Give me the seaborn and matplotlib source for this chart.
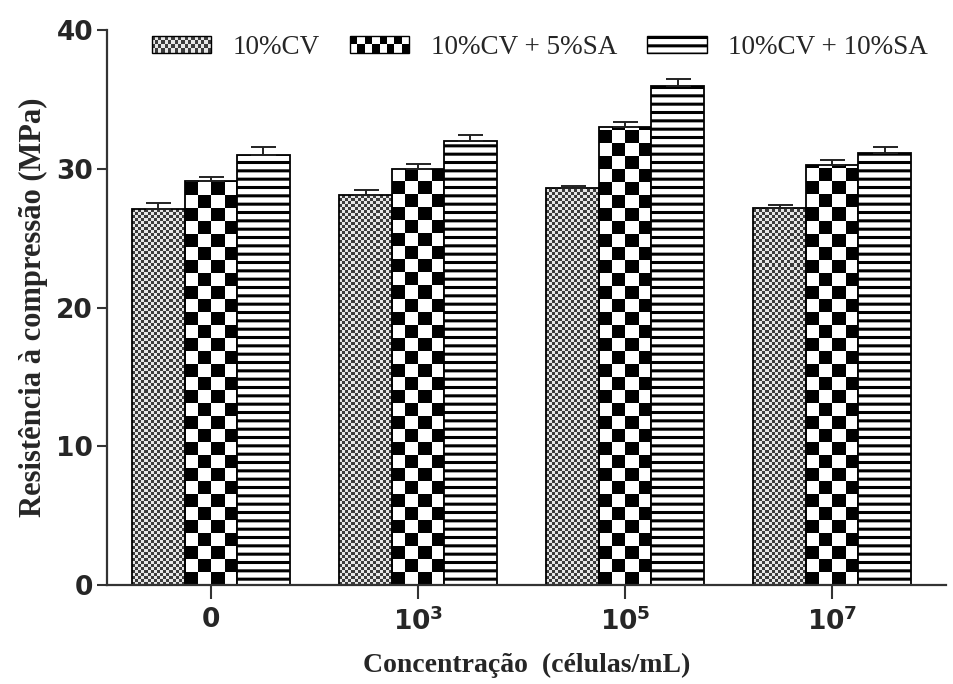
import numpy as np
import pandas as pd
import matplotlib
matplotlib.use("Agg")
import matplotlib.pyplot as plt
import seaborn as sns
from matplotlib.colors import ListedColormap
from matplotlib.patches import Rectangle
from matplotlib.legend_handler import HandlerBase

# ---------------- data ----------------
concentrations = ['0', '10^3', '10^5', '10^7']
tick_labels = ['0', r'$\mathbf{10^3}$', r'$\mathbf{10^5}$', r'$\mathbf{10^7}$']
series = ['10%CV', '10%CV + 5%SA', '10%CV + 10%SA']
cv = [27.1, 28.1, 28.6, 27.2]
cv_5sa = [29.1, 30.0, 33.0, 30.3]
cv_10sa = [31.0, 32.0, 36.0, 31.1]
err_cv = [0.45, 0.4, 0.15, 0.2]
err_cv_5sa = [0.3, 0.35, 0.4, 0.3]
err_cv_10sa = [0.55, 0.45, 0.5, 0.45]

values = [cv, cv_5sa, cv_10sa]
errors = [err_cv, err_cv_5sa, err_cv_10sa]

rows = []
for s, vals in zip(series, values):
    for c, v in zip(concentrations, vals):
        rows.append({'conc': c, 'val': v, 'series': s})
df = pd.DataFrame(rows)

# ---------------- figure ----------------
sns.set_style("white")
plt.rcParams['hatch.linewidth'] = 2.2
plt.rcParams['hatch.color'] = '#3a3a3a'

fig = plt.figure(figsize=(9.54, 6.84), dpi=100)
ax = fig.add_axes([107 / 954, 1 - 585 / 684, (946 - 107) / 954, (585 - 30) / 684])

sns.barplot(data=df, x='conc', y='val', hue='series', order=concentrations,
            hue_order=series, width=0.76, errorbar=None, ax=ax, legend=False,
            palette=['white'] * 3, edgecolor='black', linewidth=1.3,
            saturation=1)

XLIM = (-0.502, 3.55)
YLIM = (0, 40)
ax.set_xlim(*XLIM)
ax.set_ylim(*YLIM)
fig.canvas.draw()

px_per_x = (ax.transData.transform((1, 0))[0] - ax.transData.transform((0, 0))[0])
px_per_y = (ax.transData.transform((0, 1))[1] - ax.transData.transform((0, 0))[1])


def checker_fill(bar, sq_px, c1, c2):
    x, w = bar.get_x(), bar.get_width()
    y0, h = bar.get_y(), bar.get_height()
    ncols = max(1, int(round(w * px_per_x / sq_px)))
    nrows = int(np.ceil(h * px_per_y / sq_px)) + 1
    arr = np.add.outer(np.arange(nrows), np.arange(ncols)) % 2
    top = y0 + nrows * sq_px / px_per_y
    im = ax.imshow(arr, cmap=ListedColormap([c1, c2]), extent=(x, x + w, y0, top),
                   origin='lower', aspect='auto', interpolation='nearest', zorder=1.5)
    im.set_clip_path(bar)
    bar.set_facecolor('none')
    bar.set_zorder(2)


patterns = [(3.0, '#3c3c3c', '#e6e6e6'), (13.0, 'black', 'white')]
for ci, cont in enumerate(ax.containers):
    for bar in cont:
        if ci < 2:
            sq, c1, c2 = patterns[ci]
            checker_fill(bar, sq, c1, c2)
        else:
            bar.set_hatch('--')
            bar.set_zorder(2)

# error bars (upper only)
for cont, err in zip(ax.containers, errors):
    xs = [b.get_x() + b.get_width() / 2 for b in cont]
    ys = [b.get_height() for b in cont]
    ax.errorbar(xs, ys, yerr=[np.zeros(len(err)), err], fmt='none',
                ecolor='#222222', elinewidth=1.4, capsize=9, capthick=1.4, zorder=3)

ax.set_xlim(*XLIM)
ax.set_ylim(*YLIM)

# axes styling
for side in ['top', 'right']:
    ax.spines[side].set_visible(False)
for side in ['left', 'bottom']:
    ax.spines[side].set_color('#333333')
    ax.spines[side].set_linewidth(1.6)

ax.set_yticks([0, 10, 20, 30, 40])
ax.set_yticklabels(['0', '10', '20', '30', '40'])
ax.set_xticks(range(len(concentrations)))
ax.set_xticklabels(tick_labels)
ax.tick_params(axis='y', direction='out', length=7, width=1.5, color='#333333', pad=3,
               left=True)
ax.tick_params(axis='x', direction='out', length=10, width=1.5, color='#333333', pad=6,
               bottom=True)
for lab in ax.get_yticklabels() + ax.get_xticklabels():
    lab.set_fontfamily('DejaVu Sans')
    lab.set_fontweight('bold')
    lab.set_fontsize(19)

ax.set_xlabel('Concentração  (células/mL)', fontfamily='Liberation Serif',
              fontweight='bold', fontsize=20, labelpad=12)
ax.set_ylabel('Resistência à compressão (MPa)', fontfamily='Liberation Serif',
              fontweight='bold', fontsize=22, labelpad=6)


# legend
class CheckerHandler(HandlerBase):
    def __init__(self, nx, ny, c1, c2):
        super().__init__()
        self.nx, self.ny, self.c1, self.c2 = nx, ny, c1, c2

    def create_artists(self, legend, orig_handle, xdescent, ydescent, width, height,
                       fontsize, trans):
        arts = []
        cw, ch = width / self.nx, height / self.ny
        for i in range(self.nx):
            for j in range(self.ny):
                arts.append(Rectangle((-xdescent + i * cw, -ydescent + j * ch), cw, ch,
                                      facecolor=self.c1 if (i + j) % 2 else self.c2,
                                      edgecolor='none', transform=trans))
        arts.append(Rectangle((-xdescent, -ydescent), width, height, facecolor='none',
                              edgecolor='black', linewidth=1.0, transform=trans))
        return arts


h1 = Rectangle((0, 0), 1, 1, label=series[0])
h2 = Rectangle((0, 0), 1, 1, label=series[1])
h3 = Rectangle((0, 0), 1, 1, facecolor='white', edgecolor='black', hatch='--',
               linewidth=1.0, label=series[2])
leg = ax.legend(handles=[h1, h2, h3], labels=series, ncol=3, frameon=False,
                loc='upper right', bbox_to_anchor=(1.008, 1.035),
                prop={'family': 'Liberation Serif', 'size': 19.5},
                handlelength=2.2, handleheight=0.55, handletextpad=0.8,
                columnspacing=1.1,
                handler_map={h1: CheckerHandler(18, 4, '#3c3c3c', '#e6e6e6'),
                             h2: CheckerHandler(8, 2, 'black', 'white')})

fig.savefig('out.png', dpi=100)
